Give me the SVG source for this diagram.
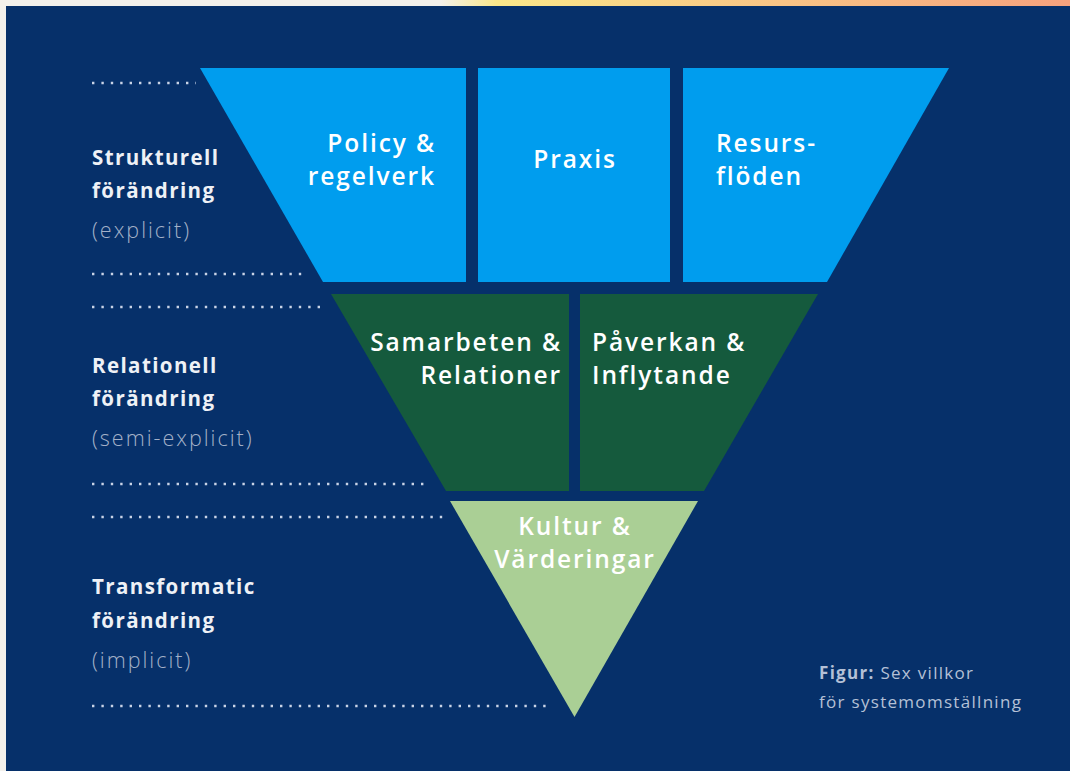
<svg xmlns="http://www.w3.org/2000/svg" width="1070" height="771" viewBox="0 0 1070 771">
  <defs>
    <linearGradient id="topGrad" x1="0" y1="0" x2="1" y2="0">
      <stop offset="0" stop-color="#f3f1ec"/>
      <stop offset="0.09" stop-color="#fbe88a"/>
      <stop offset="0.55" stop-color="#f9c486"/>
      <stop offset="1" stop-color="#f6a27e"/>
    </linearGradient>
    <style>
      .dots { stroke: #c9d3e6; stroke-width: 2.4; stroke-dasharray: 2.4 7; fill: none; }
      .blk { font-family: "Open Sans", "Liberation Sans", sans-serif; font-weight: 600; font-size: 24.5px; fill: #ffffff; letter-spacing: 1.9px; }
      .lab { font-family: "Open Sans", "Liberation Sans", sans-serif; font-weight: 700; font-size: 20.5px; fill: #eef1f6; letter-spacing: 1.4px; }
      .sub { font-family: "Open Sans", "Liberation Sans", sans-serif; font-weight: 300; font-size: 21.5px; fill: #a3b0c8; letter-spacing: 2px; }
      .cap { font-family: "Open Sans", "Liberation Sans", sans-serif; font-size: 17px; fill: #b4c0d6; letter-spacing: 1.3px; }
    </style>
  </defs>

  <rect x="0" y="0" width="1070" height="771" fill="#f3f1ec"/>
  <rect x="440" y="0" width="630" height="6" fill="url(#topGrad)"/>
  <rect x="6" y="6" width="1064" height="765" fill="#06306a"/>

  <g id="guides">
    <line class="dots" x1="92" y1="83" x2="196" y2="83"/>
    <line class="dots" x1="92" y1="274" x2="308" y2="274"/>
    <line class="dots" x1="92" y1="307" x2="326" y2="307"/>
    <line class="dots" x1="92" y1="484" x2="426" y2="484"/>
    <line class="dots" x1="92" y1="517" x2="444" y2="517"/>
    <line class="dots" x1="92" y1="706" x2="551" y2="706"/>
  </g>

  <g id="labels">
    <g id="label-strukturell">
      <text class="lab" x="92" y="165">Strukturell</text>
      <text class="lab" x="92" y="198">förändring</text>
      <text class="sub" x="92" y="238">(explicit)</text>
    </g>
    <g id="label-relationell">
      <text class="lab" x="92" y="373">Relationell</text>
      <text class="lab" x="92" y="406">förändring</text>
      <text class="sub" x="92" y="446">(semi-explicit)</text>
    </g>
    <g id="label-transformatic">
      <text class="lab" x="92" y="594">Transformatic</text>
      <text class="lab" x="92" y="628">förändring</text>
      <text class="sub" x="92" y="668">(implicit)</text>
    </g>
  </g>

  <g id="node-policy">
    <polygon points="200,68 466,68 466,282 323,282" fill="#009dee"/>
    <text class="blk" x="436" y="152" text-anchor="end">Policy &amp;</text>
    <text class="blk" x="436" y="185" text-anchor="end">regelverk</text>
  </g>
  <g id="node-praxis">
    <rect x="478" y="68" width="192" height="214" fill="#009dee"/>
    <text class="blk" x="575" y="168" text-anchor="middle">Praxis</text>
  </g>
  <g id="node-resurs">
    <polygon points="683,68 949,68 827,282 683,282" fill="#009dee"/>
    <text class="blk" x="716" y="152">Resurs-</text>
    <text class="blk" x="716" y="185">flöden</text>
  </g>

  <g id="node-samarbeten">
    <polygon points="331,294 569,294 569,491 446,491" fill="#155a3d"/>
    <text class="blk" x="562" y="351" text-anchor="end">Samarbeten &amp;</text>
    <text class="blk" x="562" y="384" text-anchor="end">Relationer</text>
  </g>
  <g id="node-paverkan">
    <polygon points="580,294 818,294 704,491 580,491" fill="#155a3d"/>
    <text class="blk" x="592" y="351">Påverkan &amp;</text>
    <text class="blk" x="592" y="384">Inflytande</text>
  </g>

  <g id="node-kultur">
    <polygon points="450,501 698,501 574.5,717" fill="#aacf95"/>
    <text class="blk" x="575" y="535" text-anchor="middle">Kultur &amp;</text>
    <text class="blk" x="575" y="568" text-anchor="middle">Värderingar</text>
  </g>

  <g id="caption">
    <text class="cap" x="819" y="679"><tspan font-weight="700">Figur:</tspan> Sex villkor</text>
    <text class="cap" x="819" y="708">för systemomställning</text>
  </g>
</svg>
